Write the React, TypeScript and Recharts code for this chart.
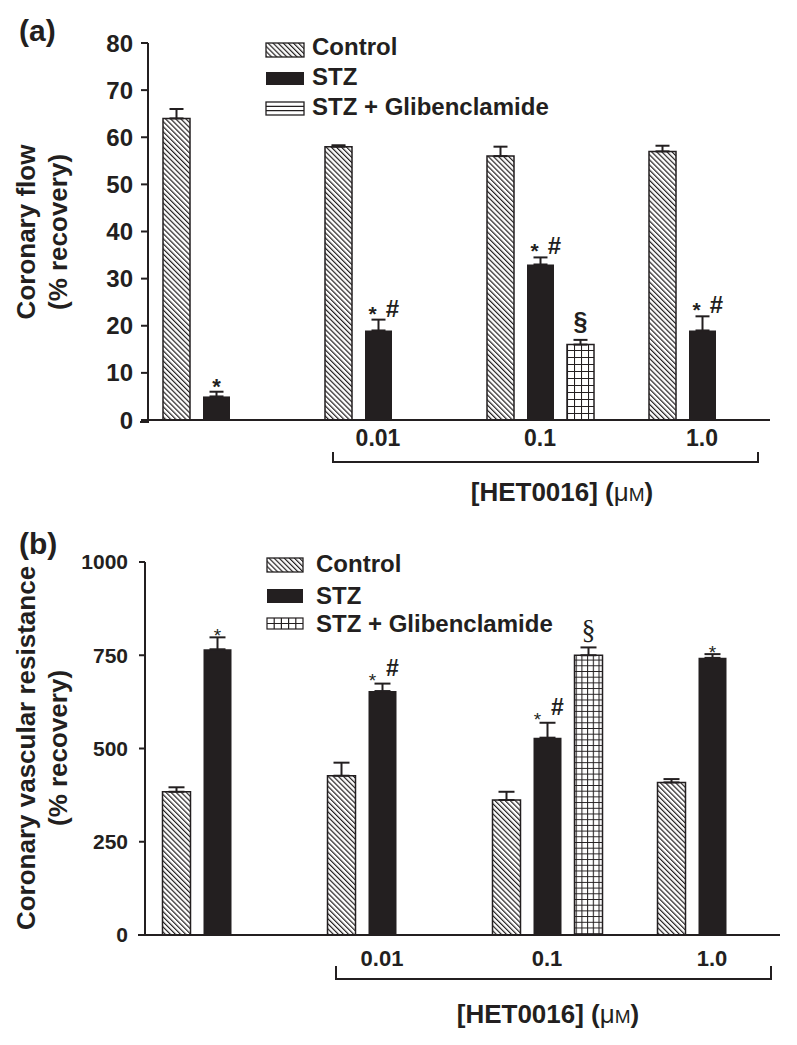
import { BarChart, Bar, XAxis, YAxis, ErrorBar, Legend } from 'recharts';

const FONT = '"Liberation Sans", Arial, Helvetica, sans-serif';
const INK = '#231f20';

const categories = ['', '0.01', '0.1', '1.0'];
const seriesNames = ['Control', 'STZ', 'STZ + Glibenclamide'];

// (a) coronary flow, % recovery
const flowControl = [64, 58, 56, 57];
const flowControlSem = [2, 0.3, 2, 1.2];
const flowStz = [5, 19, 33, 19];
const flowStzSem = [1, 2.3, 1.5, 3];
const flowGlib = [null, null, 16, null];
const flowGlibSem = [null, null, 1, null];
const flowStzMarks = ['*', '*#', '*#', '*#'];
const flowGlibMarks = ['', '', '§', ''];
const flowTicks = [0, 10, 20, 30, 40, 50, 60, 70, 80];

// (b) coronary vascular resistance, % recovery
const cvrControl = [384, 427, 362, 409];
const cvrControlSem = [12, 35, 22, 9];
const cvrStz = [766, 654, 529, 743];
const cvrStzSem = [32, 20, 40, 10];
const cvrGlib = [null, null, 750, null];
const cvrGlibSem = [null, null, 21, null];
const cvrStzMarks = ['*', '*#', '*#', '*'];
const cvrGlibMarks = ['', '', '§', ''];
const cvrTicks = [0, 250, 500, 750, 1000];

type Num = number | null;
type PanelId = 'a' | 'b';

const up = (e: Num) => (e == null ? null : [0, e]);

function buildRows(ctl: Num[], ctlSem: Num[], stz: Num[], stzSem: Num[], glib: Num[], glibSem: Num[]) {
  return categories.map((cat, i) => ({
    cat,
    control: ctl[i],
    controlErr: up(ctlSem[i]),
    stz: stz[i],
    stzErr: up(stzSem[i]),
    glib: glib[i],
    glibErr: up(glibSem[i]),
  }));
}

const flowRows = buildRows(flowControl, flowControlSem, flowStz, flowStzSem, flowGlib, flowGlibSem);
const cvrRows = buildRows(cvrControl, cvrControlSem, cvrStz, cvrStzSem, cvrGlib, cvrGlibSem);

// significance marks drawn above the error bar caps
function markRenderer(values: Num[], sems: Num[], marks: string[], panel: PanelId) {
  return (props: any) => {
    const raw = Array.isArray(props.value) ? props.value[1] : props.value;
    let i = props.index;
    // null bars are skipped, so the label index can be shifted: find it by value
    if (raw != null && values[i] !== raw && values.indexOf(raw) >= 0) i = values.indexOf(raw);
    const m = marks[i];
    const v = values[i];
    if (!m || v == null) return null;
    const box = props.viewBox && props.viewBox.width != null ? props.viewBox : props;
    const x = Number(box.x);
    const y = Number(box.y);
    const w = Number(box.width);
    const h = Math.abs(Number(box.height));
    const top = y - ((sems[i] ?? 0) * h) / v;
    const cx = x + w / 2;
    const base = { fontFamily: FONT, fill: INK, textAnchor: 'middle' as const };
    if (m === '§') {
      return panel === 'a' ? (
        <text {...base} x={cx} y={top - 10} fontSize={25} fontWeight="bold">§</text>
      ) : (
        <text {...base} x={cx} y={top - 8} fontSize={28} fontFamily='"Liberation Serif", serif'>§</text>
      );
    }
    if (m === '*') {
      return panel === 'a' ? (
        <text {...base} x={cx} y={top + 2} fontSize={22} fontWeight="bold">*</text>
      ) : (
        <text {...base} x={cx} y={top + 5} fontSize={19}>*</text>
      );
    }
    return panel === 'a' ? (
      <g>
        <text {...base} x={cx - 6} y={top + 1} fontSize={21} fontWeight="bold">*</text>
        <text {...base} x={cx + 14} y={top - 3} fontSize={24} fontWeight="bold">#</text>
      </g>
    ) : (
      <g>
        <text {...base} x={cx - 10} y={top + 3} fontSize={19}>*</text>
        <text {...base} x={cx + 10} y={top - 8} fontSize={23} fontWeight="bold">#</text>
      </g>
    );
  };
}

function Patterns({ panel, cell }: { panel: PanelId; cell: number }) {
  return (
    <defs>
      <pattern id={`hatch-${panel}`} width={3.6} height={3.6} patternUnits="userSpaceOnUse" patternTransform="rotate(-45)">
        <rect width={3.6} height={3.6} fill="#fff" />
        <line x1={0.6} y1={0} x2={0.6} y2={3.6} stroke={INK} strokeWidth={1.2} />
      </pattern>
      <pattern id={`grid-${panel}`} width={cell} height={cell} patternUnits="userSpaceOnUse">
        <rect width={cell} height={cell} fill="#fff" />
        <path d={`M0 0.5 H${cell} M0.5 0 V${cell}`} stroke={INK} strokeWidth={1.1} fill="none" />
      </pattern>
    </defs>
  );
}

function LegendBox({ panel }: { panel: PanelId }) {
  const cfg =
    panel === 'a'
      ? { swW: 38, swH: [14, 13, 13], tops: [2, 31, 61], base: [14, 44, 74], textX: 47 }
      : { swW: 36, swH: [14, 14, 11], tops: [2, 33, 62], base: [16, 48, 76], textX: 50 };
  const W = cfg.swW;
  return (
    <svg width={330} height={90} style={{ overflow: 'visible' }}>
      {seriesNames.map((name, k) => {
        const t = cfg.tops[k];
        const h = cfg.swH[k];
        let sw;
        if (k === 0) {
          sw = <rect x={1} y={t} width={W} height={h} fill={`url(#hatch-${panel})`} stroke={INK} strokeWidth={1.3} />;
        } else if (k === 1) {
          sw = <rect x={1} y={t} width={W} height={h} fill={INK} />;
        } else if (panel === 'a') {
          sw = (
            <g stroke={INK} strokeWidth={1.3} fill="#fff">
              <rect x={1} y={t} width={W} height={h} />
              <line x1={1} x2={W + 1} y1={t + h / 3} y2={t + h / 3} />
              <line x1={1} x2={W + 1} y1={t + (2 * h) / 3} y2={t + (2 * h) / 3} />
            </g>
          );
        } else {
          sw = (
            <g stroke={INK} strokeWidth={1.2} fill="#fff">
              <rect x={1} y={t} width={W} height={h} />
              <line x1={1} x2={W + 1} y1={t + h / 2} y2={t + h / 2} />
              {[1, 2, 3, 4].map((c) => (
                <line key={c} x1={1 + (c * W) / 5} x2={1 + (c * W) / 5} y1={t} y2={t + h} />
              ))}
            </g>
          );
        }
        return (
          <g key={name}>
            {sw}
            <text x={cfg.textX} y={cfg.base[k]} fontFamily={FONT} fontWeight="bold" fontSize={24} fill={INK}>
              {name}
            </text>
          </g>
        );
      })}
    </svg>
  );
}

interface PanelProps {
  panel: PanelId;
  rows: any[];
  top: number;
  height: number;
  marginTop: number;
  marginRight: number;
  yWidth: number;
  domain: [number, number];
  ticks: number[];
  tickSize: number;
  tickMargin: number;
  tickFont: number;
  xTickFont: number;
  xTickMargin: number;
  xPad: { left: number; right: number };
  barSize: number;
  cell: number;
  capWidth: number;
  legendPos: { left: number; top: number };
  stz: Num[];
  stzSem: Num[];
  stzMarks: string[];
  glib: Num[];
  glibSem: Num[];
  glibMarks: string[];
}

function Panel(p: PanelProps) {
  const errProps = { width: p.capWidth, stroke: INK, strokeWidth: 2, direction: 'y' as const };
  return (
    <div style={{ position: 'absolute', left: 0, top: p.top }}>
      <BarChart
        width={797}
        height={p.height}
        data={p.rows}
        margin={{ top: p.marginTop, right: p.marginRight, bottom: 0, left: 0 }}
        barGap={13}
      >
        <Patterns panel={p.panel} cell={p.cell} />
        <XAxis
          dataKey="cat"
          interval={0}
          tickLine={false}
          tickSize={0}
          tickMargin={p.xTickMargin}
          height={40}
          padding={p.xPad}
          axisLine={{ stroke: INK, strokeWidth: 2 }}
          tick={{ fill: INK, fontSize: p.xTickFont, fontWeight: 'bold', fontFamily: FONT }}
        />
        <YAxis
          width={p.yWidth}
          domain={p.domain}
          ticks={p.ticks}
          interval={0}
          tickSize={p.tickSize}
          tickMargin={p.tickMargin}
          axisLine={{ stroke: INK, strokeWidth: 2 }}
          tickLine={{ stroke: INK, strokeWidth: 2 }}
          tick={{ fill: INK, fontSize: p.tickFont, fontWeight: 'bold', fontFamily: FONT }}
        />
        <Legend
          layout="vertical"
          align="center"
          verticalAlign="middle"
          content={() => <LegendBox panel={p.panel} />}
          wrapperStyle={{ left: p.legendPos.left, top: p.legendPos.top, width: 330, height: 90 }}
        />
        <Bar
          dataKey="control"
          name={seriesNames[0]}
          barSize={p.barSize}
          fill={`url(#hatch-${p.panel})`}
          stroke={INK}
          strokeWidth={1.5}
          isAnimationActive={false}
        >
          <ErrorBar dataKey="controlErr" {...errProps} />
        </Bar>
        <Bar
          dataKey="stz"
          name={seriesNames[1]}
          barSize={p.barSize}
          fill={INK}
          isAnimationActive={false}
          label={markRenderer(p.stz, p.stzSem, p.stzMarks, p.panel)}
        >
          <ErrorBar dataKey="stzErr" {...errProps} />
        </Bar>
        <Bar
          dataKey="glib"
          name={seriesNames[2]}
          barSize={p.barSize}
          fill={`url(#grid-${p.panel})`}
          stroke={INK}
          strokeWidth={1.5}
          isAnimationActive={false}
          label={markRenderer(p.glib, p.glibSem, p.glibMarks, p.panel)}
        >
          <ErrorBar dataKey="glibErr" {...errProps} />
        </Bar>
      </BarChart>
    </div>
  );
}

function HetLabel({ x, y }: { x: number; y: number }) {
  return (
    <text x={x} y={y} textAnchor="middle" fontFamily={FONT} fontWeight="bold" fontSize={26} fill={INK}>
      [HET0016] (<tspan fontWeight="normal">μ</tspan>
      <tspan fontWeight="normal" fontSize={19}>M</tspan>)
    </text>
  );
}

function Decorations() {
  const t = { fontFamily: FONT, fontWeight: 'bold' as const, fill: INK };
  return (
    <svg width={797} height={1045} style={{ position: 'absolute', left: 0, top: 0, pointerEvents: 'none' }}>
      <text {...t} x={19} y={41} fontSize={30}>(a)</text>
      <text {...t} fontSize={26} textAnchor="middle" transform="translate(35,232) rotate(-90)">Coronary flow</text>
      <text {...t} fontSize={26} textAnchor="middle" transform="translate(67,232) rotate(-90)">(% recovery)</text>
      <line x1={140} x2={149} y1={422} y2={422} stroke={INK} strokeWidth={2} />
      <path d="M333 452 V462 H758 V452" fill="none" stroke={INK} strokeWidth={2} />
      <HetLabel x={562} y={501} />

      <text {...t} x={19} y={554} fontSize={30}>(b)</text>
      <text {...t} fontSize={26} textAnchor="middle" transform="translate(35,748) rotate(-90)">
        Coronary vascular resistance
      </text>
      <text {...t} fontSize={26} textAnchor="middle" transform="translate(67,748) rotate(-90)">(% recovery)</text>
      <line x1={138} x2={146} y1={935} y2={935} stroke={INK} strokeWidth={2} />
      <path d="M336 966 V979 H771 V966" fill="none" stroke={INK} strokeWidth={2} />
      <HetLabel x={548} y={1023} />
    </svg>
  );
}

export default function App() {
  return (
    <div style={{ position: 'absolute', left: 0, top: 0, width: 797, height: 1045, background: '#fff' }}>
      <Panel
        panel="a"
        rows={flowRows}
        top={0}
        height={460}
        marginTop={43}
        marginRight={27}
        yWidth={148}
        domain={[0, 80]}
        ticks={flowTicks}
        tickSize={7}
        tickMargin={8}
        tickFont={24}
        xTickFont={23}
        xTickMargin={10}
        xPad={{ left: -13, right: -13 }}
        barSize={27}
        cell={7}
        capWidth={7}
        legendPos={{ left: 265, top: 41 }}
        stz={flowStz}
        stzSem={flowStzSem}
        stzMarks={flowStzMarks}
        glib={flowGlib}
        glibSem={flowGlibSem}
        glibMarks={flowGlibMarks}
      />
      <Panel
        panel="b"
        rows={cvrRows}
        top={500}
        height={475}
        marginTop={62}
        marginRight={17}
        yWidth={145}
        domain={[0, 1000]}
        ticks={cvrTicks}
        tickSize={6}
        tickMargin={11}
        tickFont={21}
        xTickFont={22}
        xTickMargin={15}
        xPad={{ left: -10.5, right: -14.5 }}
        barSize={28}
        cell={5.7}
        capWidth={8}
        legendPos={{ left: 266, top: 56 }}
        stz={cvrStz}
        stzSem={cvrStzSem}
        stzMarks={cvrStzMarks}
        glib={cvrGlib}
        glibSem={cvrGlibSem}
        glibMarks={cvrGlibMarks}
      />
      <Decorations />
    </div>
  );
}
